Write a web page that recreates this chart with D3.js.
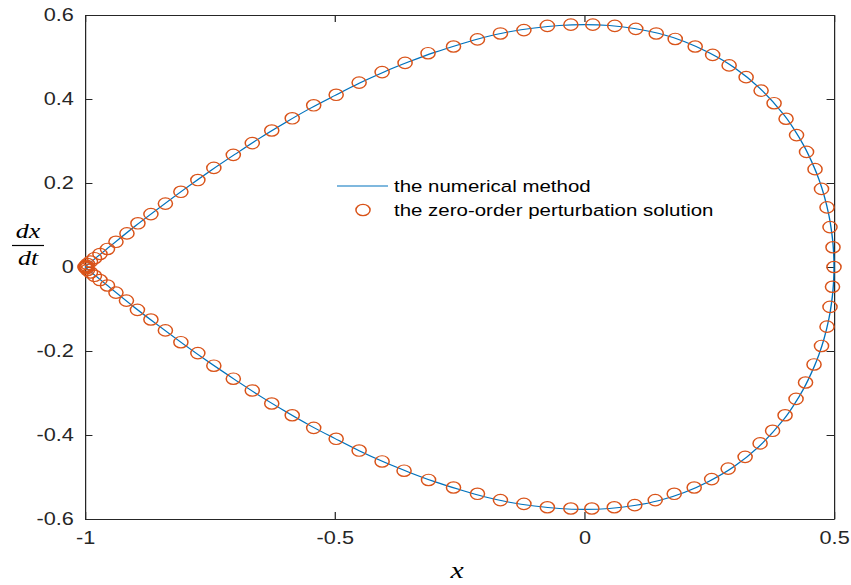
<!DOCTYPE html>
<html>
<head>
<meta charset="utf-8">
<script src="https://cdn.jsdelivr.net/npm/d3@7"></script>
<style>
  body { margin: 0; background: #fff; }
  text { font-family: "Liberation Sans", Arial, sans-serif; }
</style>
</head>
<body>
<script>

// numerical method (upper branch left->right, lower branch right->left)
const lineX = [-1, -0.98, -0.95, -0.9, -0.85, -0.8, -0.75, -0.7, -0.65, -0.6, -0.55, -0.5, -0.45, -0.4, -0.35,
  -0.3, -0.25, -0.2, -0.15, -0.1, -0.05, 0, 0.05, 0.1, 0.15, 0.2, 0.25, 0.3, 0.35, 0.4, 0.42, 0.44, 0.46,
  0.47, 0.48, 0.49, 0.495, 0.498, 0.4995, 0.5,
  0.4995, 0.498, 0.495, 0.49, 0.48, 0.47, 0.46, 0.44, 0.42, 0.4, 0.35, 0.3, 0.25, 0.2, 0.15, 0.1, 0.05, 0,
  -0.05, -0.1, -0.15, -0.2, -0.25, -0.3, -0.35, -0.4, -0.45, -0.5, -0.55, -0.6, -0.65, -0.7, -0.75, -0.8,
  -0.85, -0.9, -0.95, -0.98, -1];
const lineY = [0, 0.020, 0.049, 0.097, 0.142, 0.186, 0.228, 0.268, 0.307, 0.343, 0.377, 0.408, 0.438, 0.465, 0.489,
  0.511, 0.530, 0.547, 0.560, 0.569, 0.575, 0.577, 0.575, 0.568, 0.556, 0.537, 0.510, 0.475, 0.427, 0.362, 0.328, 0.288, 0.238,
  0.208, 0.171, 0.122, 0.086, 0.055, 0.027, 0,
  -0.027, -0.055, -0.086, -0.122, -0.171, -0.208, -0.238, -0.288, -0.328, -0.362, -0.427, -0.475, -0.510, -0.537, -0.556, -0.568, -0.575, -0.577,
  -0.575, -0.569, -0.560, -0.547, -0.530, -0.511, -0.489, -0.465, -0.438, -0.408, -0.377, -0.343, -0.307, -0.268, -0.228, -0.186,
  -0.142, -0.097, -0.049, -0.020, 0];

// zero-order perturbation solution markers
const markX = [-1.000, -0.999, -0.997, -0.995, -0.989, -0.981, -0.970, -0.955, -0.938, -0.916, -0.894, -0.868, -0.839,
  -0.808, -0.774, -0.742, -0.703, -0.665, -0.626, -0.585, -0.542, -0.497, -0.451, -0.405, -0.359, -0.313, -0.262,
  -0.214, -0.168, -0.121, -0.074, -0.027, 0.017, 0.061, 0.103, 0.144, 0.182, 0.222, 0.257, 0.290, 0.324, 0.354,
  0.380, 0.404, 0.425, 0.445, 0.462, 0.475, 0.486, 0.492, 0.498, 0.500,
  0.497, 0.492, 0.486, 0.475, 0.460, 0.443, 0.424, 0.402, 0.377, 0.352, 0.322, 0.288, 0.255, 0.220, 0.180, 0.142,
  0.101, 0.060, 0.015, -0.027, -0.074, -0.121, -0.168, -0.214, -0.262, -0.312, -0.361, -0.405, -0.451, -0.497,
  -0.542, -0.585, -0.626, -0.665, -0.703, -0.742, -0.774, -0.808, -0.839, -0.868, -0.895, -0.917, -0.938, -0.955,
  -0.970, -0.981, -0.989, -0.995, -0.997, -0.999];
const markY = [0.000, 0.001, 0.003, 0.007, 0.013, 0.021, 0.031, 0.043, 0.060, 0.080, 0.104, 0.126, 0.151,
  0.179, 0.207, 0.236, 0.267, 0.295, 0.325, 0.354, 0.385, 0.410, 0.439, 0.464, 0.486, 0.509, 0.525,
  0.542, 0.556, 0.564, 0.574, 0.577, 0.577, 0.574, 0.567, 0.556, 0.543, 0.525, 0.505, 0.480, 0.452, 0.420,
  0.390, 0.353, 0.314, 0.274, 0.233, 0.186, 0.142, 0.095, 0.047, 0.000,
  -0.047, -0.095, -0.142, -0.188, -0.232, -0.275, -0.314, -0.353, -0.390, -0.420, -0.452, -0.480, -0.505, -0.525, -0.540, -0.555,
  -0.567, -0.572, -0.575, -0.575, -0.572, -0.564, -0.555, -0.540, -0.525, -0.507, -0.485, -0.463, -0.437, -0.409,
  -0.383, -0.353, -0.325, -0.294, -0.266, -0.235, -0.205, -0.179, -0.151, -0.125, -0.102, -0.080, -0.061, -0.044,
  -0.031, -0.021, -0.013, -0.007, -0.003, -0.001];

const xTicks = [-1, -0.5, 0, 0.5];
const yTicks = [-0.6, -0.4, -0.2, 0, 0.2, 0.4, 0.6];

const legendNames = ['the numerical method', 'the zero-order perturbation solution'];

const blue   = '#0072BD';
const orange = '#D95319';
const axisCol = '#262626';

// the figure is stretched horizontally, so draw everything in a squeezed frame
const k = 1.24;

const svg = d3.select('body').append('svg')
  .attr('width', 851)
  .attr('height', 585);

const g = svg.append('g')
  .attr('transform', `scale(${k},1)`);

const xScale = d3.scaleLinear().domain([-1, 0.5]).range([85 / k, 834 / k]);
const yScale = d3.scaleLinear().domain([-0.6, 0.6]).range([519, 15]);

const fmt = d => String(d);

function styleAxis(sel) {
  sel.selectAll('.domain').attr('stroke', axisCol).attr('stroke-width', 1);
  sel.selectAll('.tick line').attr('stroke', axisCol);
  sel.selectAll('.tick text')
    .attr('fill', axisCol)
    .style('font-family', '"Liberation Sans", Arial, sans-serif')
    .style('font-size', '17.5px');
}

g.append('g')
  .attr('transform', `translate(0,${yScale(-0.6)})`)
  .call(d3.axisBottom(xScale).tickValues(xTicks).tickFormat(fmt)
    .tickSizeInner(-7).tickSizeOuter(0).tickPadding(13))
  .call(styleAxis);

g.append('g')
  .attr('transform', `translate(0,${yScale(0.6)})`)
  .call(d3.axisTop(xScale).tickValues(xTicks).tickFormat('')
    .tickSizeInner(-7).tickSizeOuter(0))
  .call(styleAxis);

g.append('g')
  .attr('transform', `translate(${xScale(-1)},0)`)
  .call(d3.axisLeft(yScale).tickValues(yTicks).tickFormat(fmt)
    .tickSizeInner(-6).tickSizeOuter(0).tickPadding(9))
  .call(styleAxis);

g.append('g')
  .attr('transform', `translate(${xScale(0.5)},0)`)
  .call(d3.axisRight(yScale).tickValues(yTicks).tickFormat('')
    .tickSizeInner(-6).tickSizeOuter(0))
  .call(styleAxis);

// numerical curve
const linePts = lineX.map((v, i) => [v, lineY[i]]);
g.append('path')
  .datum(linePts)
  .attr('fill', 'none')
  .attr('stroke', blue)
  .attr('stroke-width', 1.1)
  .attr('d', d3.line()
    .x(d => xScale(d[0]))
    .y(d => yScale(d[1]))
    .curve(d3.curveCatmullRom));

// markers
const markPts = markX.map((v, i) => [v, markY[i]]);
g.append('g').selectAll('circle')
  .data(markPts)
  .enter().append('circle')
    .attr('cx', d => xScale(d[0]))
    .attr('cy', d => yScale(d[1]))
    .attr('r', 5.7)
    .attr('fill', 'none')
    .attr('stroke', orange)
    .attr('stroke-width', 1.2);

// legend (no box)
const leg = g.append('g');
leg.append('line')
  .attr('x1', 337 / k).attr('x2', 388 / k)
  .attr('y1', 186).attr('y2', 186)
  .attr('stroke', blue).attr('stroke-width', 1.1);
leg.append('circle')
  .attr('cx', 363 / k).attr('cy', 210).attr('r', 5.7)
  .attr('fill', 'none').attr('stroke', orange).attr('stroke-width', 1.2);
leg.selectAll('text')
  .data(legendNames)
  .enter().append('text')
    .attr('x', 394 / k)
    .attr('y', (d, i) => 186 + i * 24)
    .attr('dy', '0.35em')
    .attr('fill', '#000')
    .style('font-size', '16.5px')
    .text(d => d);

// axis labels (LaTeX-like)
g.append('text')
  .attr('x', 457 / k)
  .attr('y', 578)
  .attr('text-anchor', 'middle')
  .style('font-family', '"Liberation Serif", "DejaVu Serif", serif')
  .style('font-style', 'italic')
  .style('font-size', '24px')
  .text('x');

const yl = g.append('g').attr('transform', `translate(${28 / k},0)`);
yl.append('text')
  .attr('x', 0).attr('y', 238)
  .attr('text-anchor', 'middle')
  .style('font-family', '"Liberation Serif", "DejaVu Serif", serif')
  .style('font-style', 'italic')
  .style('font-size', '21px')
  .text('dx');
yl.append('line')
  .attr('x1', -16 / k).attr('x2', 16 / k)
  .attr('y1', 245.5).attr('y2', 245.5)
  .attr('stroke', '#000').attr('stroke-width', 1.2);
yl.append('text')
  .attr('x', 0).attr('y', 265)
  .attr('text-anchor', 'middle')
  .style('font-family', '"Liberation Serif", "DejaVu Serif", serif')
  .style('font-style', 'italic')
  .style('font-size', '21px')
  .text('dt');

</script>
</body>
</html>
